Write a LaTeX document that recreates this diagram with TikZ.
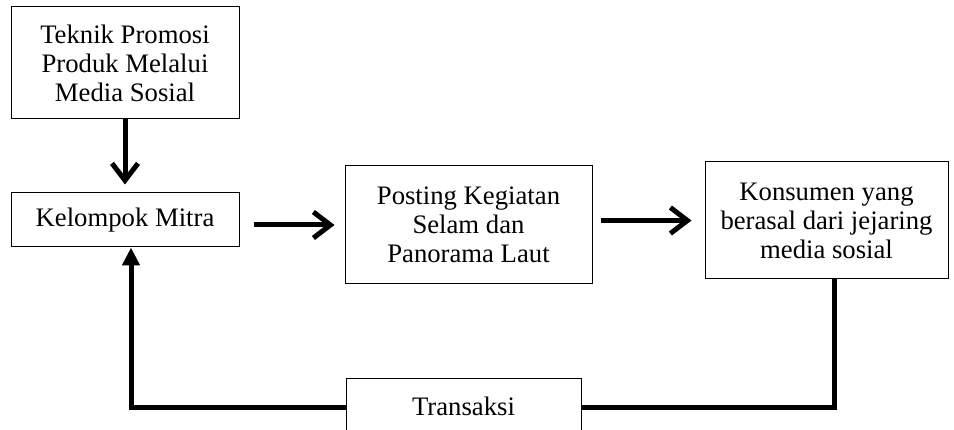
\documentclass[tikz,border=0pt]{standalone}
\usepackage{fontspec}
\setmainfont{Liberation Serif}
\usetikzlibrary{arrows.meta}
\begin{document}
\begin{tikzpicture}[x=1pt,y=-1pt,
  box/.style={draw=black,line width=1pt,rectangle,inner sep=0pt,align=center,
    font=\fontsize{26.7}{29}\selectfont},
  flow/.style={line width=5pt,-{Straight Barb[length=17pt,width=26pt]}},
  back/.style={line width=5pt,line join=miter},
  backarr/.style={line width=5pt,line join=miter,-{Triangle[length=18pt,width=17pt]}}]
\useasboundingbox (0,0) rectangle (954,430);
\clip (0,0) rectangle (954,430);
\node[box,minimum width=228pt,minimum height=112pt] (teknik) at (125,63)
  {Teknik Promosi\\Produk Melalui\\Media Sosial};
\node[box,minimum width=228pt,minimum height=54pt] (mitra) at (125,220)
  {Kelompok Mitra};
\node[box,minimum width=247pt,minimum height=118pt] (posting) at (468.5,225)
  {Posting Kegiatan\\Selam dan\\Panorama Laut};
\node[box,minimum width=243pt,minimum height=117pt] (konsumen) at (826.5,220.5)
  {Konsumen yang\\berasal dari jejaring\\media sosial};
\node[box,minimum width=235pt,minimum height=54pt] (transaksi) at (463.5,406)
  {Transaksi};
\draw[flow,shorten >=8pt] (teknik.south) -- (mitra.north);
\draw[flow,shorten <=14pt,shorten >=10pt] (mitra.east |- posting.west) -- (posting.west);
\draw[flow,shorten <=8pt,shorten >=13pt] (posting.east |- konsumen.west) -- (konsumen.west);
\draw[back] ([xshift=7.5pt]konsumen.south) |- ([yshift=-2pt]transaksi.east);
\draw[backarr] ([yshift=-2pt]transaksi.west) -| ([xshift=6pt]mitra.south);
\end{tikzpicture}
\end{document}
